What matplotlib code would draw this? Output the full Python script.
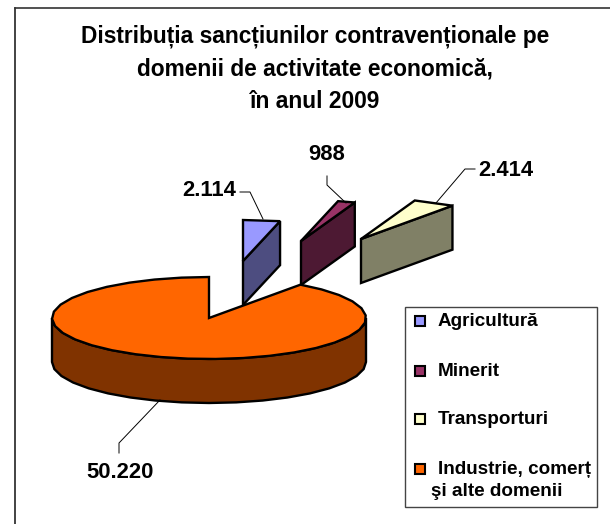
import matplotlib
matplotlib.use("Agg")
import matplotlib.pyplot as plt
from matplotlib.patches import Polygon, Rectangle
import numpy as np

categories = ["Agricultură", "Minerit", "Transporturi", "Industrie, comerț\n şi alte domenii"]
values = [2114, 988, 2414, 50220]
value_labels = ["2.114", "988", "2.414", "50.220"]
top_colors = ["#9999FF", "#993366", "#FFFFCC", "#FF6600"]
side_colors = ["#4D4D80", "#4D1933", "#808066", "#803300"]
title = "Distribuția sancțiunilor contravenționale pe\ndomenii de activitate economică,\nîn anul 2009"

# pie geometry in pixels
cx, cy = 209, 318
rx, ry = 157, 41
depth = 44
offsets = [(34, -57), (92, -77), (152, -79), (0, 0)]

plt.rcParams['font.family'] = ['Liberation Sans', 'DejaVu Sans']


def rim(a0, a1, step=10):
    """points of the ellipse, angles in degrees clockwise from the top"""
    n = max(int(abs(a1 - a0) / step), 1)
    t = np.radians(np.linspace(a0, a1, n + 1))
    return np.column_stack((rx * np.sin(t), -ry * np.cos(t)))


def draw_slice(ax, a0, a1, dx, dy, top, side):
    px, py = cx + dx, cy + dy
    arc = rim(a0, a1) + [px, py]
    if a1 - a0 < 180:
        # small wedge: the front wall runs from the apex to the end of the arc
        end = arc[-1]
        wall = [(px, py), tuple(end), (end[0], end[1] + depth), (px, py + depth)]
        ax.add_patch(Polygon(wall, closed=True, fc=side, ec="black", lw=1.7, zorder=2))
    else:
        # big wedge: only the part of the rim facing the viewer has a wall
        front = rim(90, 270) + [px, py]
        wall = np.vstack((front, (front + [0, depth])[::-1]))
        ax.add_patch(Polygon(wall, closed=True, fc=side, ec="black", lw=1.7, zorder=2))
    face = np.vstack(([px, py], arc))
    ax.add_patch(Polygon(face, closed=True, fc=top, ec="black", lw=1.7, zorder=3))


def main():
    fig = plt.figure(figsize=(6.1, 5.24), dpi=100)
    ax = fig.add_axes([0, 0, 1, 1])
    ax.set_xlim(0, 610)
    ax.set_ylim(524, 0)
    ax.axis("off")

    # chart border, right and bottom sides fall outside the picture
    ax.plot([15, 15], [530, 7.5], color="#222222", lw=1.2, zorder=1)
    ax.plot([15, 615], [7.5, 7.5], color="#333333", lw=1.2, zorder=1)

    ax.text(315, 68.5, title, ha="center", va="center", fontsize=16.4, fontweight="bold",
            linespacing=1.54, color="black")

    angles = np.cumsum([0] + values) / sum(values) * 360
    for i in range(len(values)):
        draw_slice(ax, angles[i], angles[i + 1], offsets[i][0], offsets[i][1], top_colors[i], side_colors[i])

    # leader lines
    leaders = [[(240, 192), (250, 192), (263, 219)],
               [(327, 176), (327, 185), (346, 203)],
               [(475, 169), (465, 169), (436, 203)],
               [(119, 453), (119, 443), (160, 400)]]
    label_pos = [(209, 191), (327, 155), (506, 170), (120, 473)]
    for pts, lab, pos in zip(leaders, value_labels, label_pos):
        xs, ys = zip(*pts)
        ax.plot(xs, ys, color="black", lw=0.7, zorder=4)
        ax.text(pos[0], pos[1], lab, ha="center", va="center", fontsize=15.8, fontweight="bold")

    # legend
    ax.add_patch(Rectangle((405, 307), 192, 200, fc="white", ec="#444444", lw=1.0, zorder=5))
    legend_y = [321, 371, 419, 469]
    for name, color, y in zip(categories, top_colors, legend_y):
        ax.add_patch(Rectangle((415, y - 5), 10, 10, fc=color, ec="black", lw=1.5, zorder=6))
        ax.text(438, y, name.split("\n")[0], ha="left", va="center", fontsize=13.6, fontweight="bold", zorder=6)
        if "\n" in name:
            ax.text(431, y + 23, name.split("\n")[1].strip(), ha="left", va="center", fontsize=13.6,
                    fontweight="bold", zorder=6)

    fig.savefig("out.png", dpi=100, facecolor="white")


if __name__ == '__main__':
    main()
